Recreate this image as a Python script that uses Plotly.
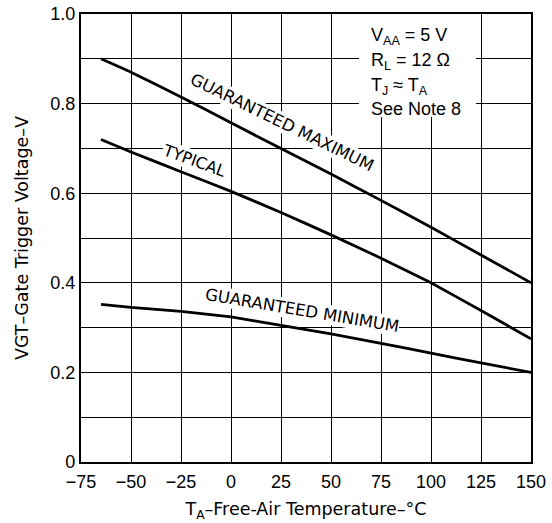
import plotly.graph_objects as go

# Data
temp_c = [-65, -50, -25, 0, 25, 50, 75, 100, 125, 150]
vgt_max = [0.900, 0.870, 0.815, 0.757, 0.700, 0.643, 0.584, 0.524, 0.462, 0.400]
vgt_typ = [0.720, 0.692, 0.648, 0.604, 0.557, 0.507, 0.455, 0.400, 0.338, 0.275]
vgt_min = [0.352, 0.345, 0.336, 0.324, 0.305, 0.286, 0.265, 0.243, 0.221, 0.200]

x_ticks = [-75, -50, -25, 0, 25, 50, 75, 100, 125, 150]
x_tick_text = ["\u221275", "\u221250", "\u221225", "0", "25", "50", "75", "100", "125", "150"]
y_ticks = [0, 0.1, 0.2, 0.3, 0.4, 0.5, 0.6, 0.7, 0.8, 0.9, 1.0]
y_tick_text = ["0", "", "0.2", "", "0.4", "", "0.6", "", "0.8", "", "1.0"]

FONT = "Liberation Sans, Arial, sans-serif"
WIDE = "DejaVu Sans, sans-serif"

fig = go.Figure()
for ys in (vgt_max, vgt_typ, vgt_min):
    fig.add_trace(go.Scatter(x=temp_c, y=ys, mode="lines",
                             line=dict(color="black", width=2.8, shape="spline", smoothing=0.3),
                             showlegend=False, hoverinfo="skip"))

# white block behind the conditions text (breaks gridlines as in the reference)
fig.add_shape(type="rect", x0=64, x1=122.5, y0=0.77, y1=1.0, xref="x", yref="y",
              fillcolor="white", line=dict(width=0), layer="between")

cond_lines = ["V<sub>AA</sub> = 5 V", "R<sub>L</sub> = 12 \u03a9",
              "T<sub>J</sub> \u2248 T<sub>A</sub>", "See Note 8"]
cond_y = [0.949, 0.894, 0.839, 0.789]
for t, yy in zip(cond_lines, cond_y):
    fig.add_annotation(x=69, y=yy, text=t, showarrow=False, xanchor="left", yanchor="middle",
                       font=dict(family=FONT, size=18, color="black"))

labels = [("GUARANTEED MAXIMUM", 25.5, 0.757, 26, 16.5),
          ("TYPICAL", -18.5, 0.672, 20, 16),
          ("GUARANTEED MINIMUM", 35.5, 0.338, 9.5, 16.5)]
for t, xx, yy, ang, fs in labels:
    fig.add_annotation(x=xx, y=yy, text=t, showarrow=False, textangle=ang,
                       bgcolor="white", borderpad=0,
                       font=dict(family=WIDE, size=fs, color="black"))

axis_common = dict(showline=True, linecolor="black", linewidth=2.2, mirror=True,
                   showgrid=True, gridcolor="black", gridwidth=1.4, zeroline=False,
                   ticks="", automargin=False,
                   tickfont=dict(family=FONT, size=18, color="black"))

fig.update_xaxes(range=[-75, 150], tickmode="array", tickvals=x_ticks, ticktext=x_tick_text,
                 ticklabelstandoff=2,
                 title=dict(text="T<sub>A</sub>\u2013Free-Air Temperature\u2013\u00b0C",
                            font=dict(family=WIDE, size=17.5, color="black"), standoff=12),
                 **axis_common)
fig.update_yaxes(range=[0, 1.0], tickmode="array", tickvals=y_ticks, ticktext=y_tick_text,
                 title=dict(text="VGT\u2013Gate Trigger Voltage\u2013V",
                            font=dict(family=WIDE, size=17.5, color="black"), standoff=17),
                 **axis_common)

fig.update_layout(width=552, height=523, margin=dict(l=81, r=21, t=14, b=61),
                  paper_bgcolor="white", plot_bgcolor="white",
                  font=dict(family=FONT, color="black"))

fig.write_html("out.html", config={"displayModeBar": False},
               post_script="document.body.style.margin='0';")
